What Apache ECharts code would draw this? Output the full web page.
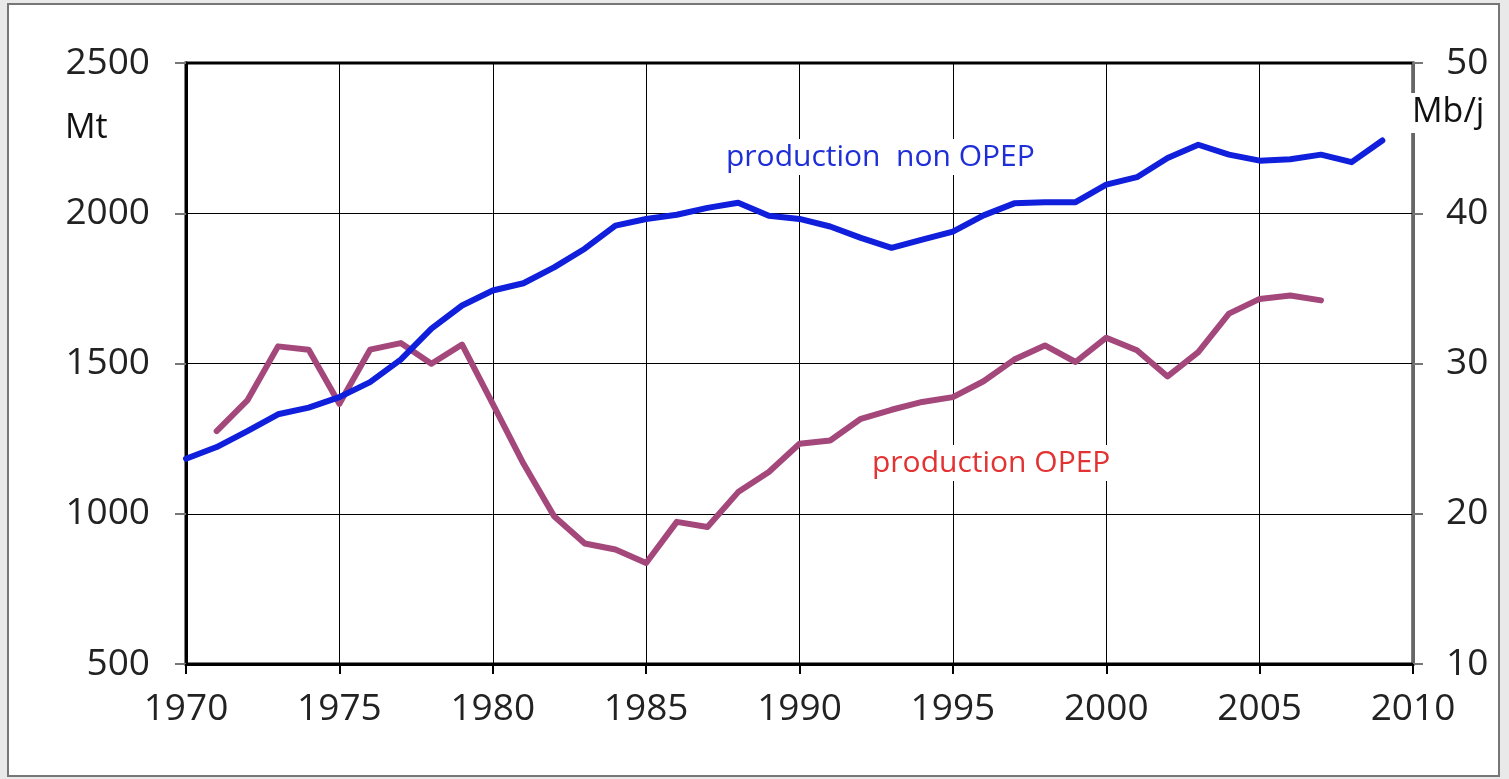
<!DOCTYPE html>
<html>
<head>
<meta charset="utf-8">
<script src="https://cdn.jsdelivr.net/npm/echarts@6/dist/echarts.min.js"></script>
<style>
  html, body { margin: 0; padding: 0; background: #e9e9e9; }
  .frame {
    position: absolute; left: 7px; top: 3px; width: 1493px; height: 774px;
    box-sizing: border-box; background: #fff; border: 2px solid #777;
  }
  #chart { position: absolute; left: 0; top: 0; width: 1509px; height: 779px; }
</style>
</head>
<body>
<div class="frame"></div>
<div id="chart"></div>
<script>
// production non OPEP (Mt), 1970 - 2009
var nonOpepYears = [1970, 1971, 1972, 1973, 1974, 1975, 1976, 1977, 1978, 1979,
  1980, 1981, 1982, 1983, 1984, 1985, 1986, 1987, 1988, 1989,
  1990, 1991, 1992, 1993, 1994, 1995, 1996, 1997, 1998, 1999,
  2000, 2001, 2002, 2003, 2004, 2005, 2006, 2007, 2008, 2009]
var nonOpepValues = [1183, 1222, 1275, 1331, 1353, 1388, 1438, 1513, 1616, 1693,
  1743, 1767, 1820, 1882, 1959, 1981, 1995, 2018, 2035, 1992,
  1981, 1956, 1918, 1885, 1912, 1939, 1993, 2033, 2037, 2037,
  2095, 2120, 2184, 2228, 2195, 2175, 2180, 2195, 2170, 2242]

// production OPEP (Mt), 1971 - 2007
var opepYears = [1971, 1972, 1973, 1974, 1975, 1976, 1977, 1978, 1979,
  1980, 1981, 1982, 1983, 1984, 1985, 1986, 1987, 1988, 1989,
  1990, 1991, 1992, 1993, 1994, 1995, 1996, 1997, 1998, 1999,
  2000, 2001, 2002, 2003, 2004, 2005, 2006, 2007]
var opepValues = [1275, 1377, 1557, 1546, 1366, 1546, 1568, 1499, 1563,
  1366, 1167, 992, 901, 881, 836, 973, 956, 1072, 1139,
  1233, 1244, 1316, 1346, 1372, 1388, 1441, 1513, 1560, 1505,
  1586, 1544, 1457, 1538, 1666, 1715, 1726, 1710]

// axes
var yearMin = 1970
var yearMax = 2010
var mtMin = 500
var mtMax = 2500
var mbjMin = 10
var mbjMax = 50

function pairs(xs, ys) {
  return xs.map(function (x, i) { return [x, ys[i]] })
}
function plain(v) { return String(v) }

var font = '"Open Sans", "DejaVu Sans", sans-serif'
var chart = echarts.init(document.getElementById('chart'))
chart.setOption({
  backgroundColor: 'transparent',
  animation: false,
  grid: {
    left: 186, top: 63, right: 96, bottom: 115,
    show: true, borderColor: '#000', borderWidth: 3, backgroundColor: 'transparent'
  },
  xAxis: {
    type: 'value', min: yearMin, max: yearMax, interval: 5,
    axisLine: { show: true, onZero: false, lineStyle: { color: '#000', width: 3 } },
    axisTick: { show: true, length: 10, lineStyle: { color: '#000', width: 2 } },
    axisLabel: { color: '#222', fontSize: 37, fontFamily: font, margin: 27, formatter: plain },
    splitLine: { show: true, lineStyle: { color: '#000', width: 1 } }
  },
  yAxis: [
    {
      type: 'value', min: mtMin, max: mtMax, interval: 500,
      axisLine: { show: true, lineStyle: { color: '#000', width: 3 } },
      axisTick: { show: true, length: 11, lineStyle: { color: '#777', width: 2 } },
      axisLabel: { color: '#222', fontSize: 37, fontFamily: font, margin: 36, formatter: plain },
      splitLine: { show: true, lineStyle: { color: '#000', width: 1 } }
    },
    {
      type: 'value', min: mbjMin, max: mbjMax, interval: 10,
      position: 'right',
      axisLine: { show: true, lineStyle: { color: '#666', width: 3 } },
      axisTick: { show: true, length: 10, lineStyle: { color: '#777', width: 2 } },
      axisLabel: { color: '#222', fontSize: 37, fontFamily: font, margin: 33, formatter: plain },
      splitLine: { show: false }
    }
  ],
  series: [
    {
      name: 'production non OPEP', type: 'line', yAxisIndex: 0,
      data: pairs(nonOpepYears, nonOpepValues),
      showSymbol: false, z: 3,
      lineStyle: { color: '#0f1fdc', width: 6, cap: 'round', join: 'round' }
    },
    {
      name: 'production OPEP', type: 'line', yAxisIndex: 0,
      data: pairs(opepYears, opepValues),
      showSymbol: false, z: 2,
      lineStyle: { color: '#a4487c', width: 6, cap: 'round', join: 'round' }
    }
  ],
  graphic: [
    {
      type: 'text', left: 65, top: 111, z: 10,
      style: { text: 'Mt', fill: '#111', font: '34px ' + font }
    },
    {
      type: 'text', left: 1410, top: 93, z: 10,
      style: { text: 'Mb/j', fill: '#111', font: '34px ' + font, backgroundColor: '#fff', padding: [2, 2, 4, 2] }
    },
    {
      type: 'text', left: 720, top: 139, z: 10,
      style: { text: 'production  non OPEP', fill: '#1f2fd8', font: '30px ' + font, backgroundColor: '#fff', padding: [3, 6, 3, 6] }
    },
    {
      type: 'text', left: 866, top: 445, z: 10,
      style: { text: 'production OPEP', fill: '#e23232', font: '30px ' + font, backgroundColor: '#fff', padding: [3, 6, 3, 6] }
    }
  ]
})
</script>
</body>
</html>
